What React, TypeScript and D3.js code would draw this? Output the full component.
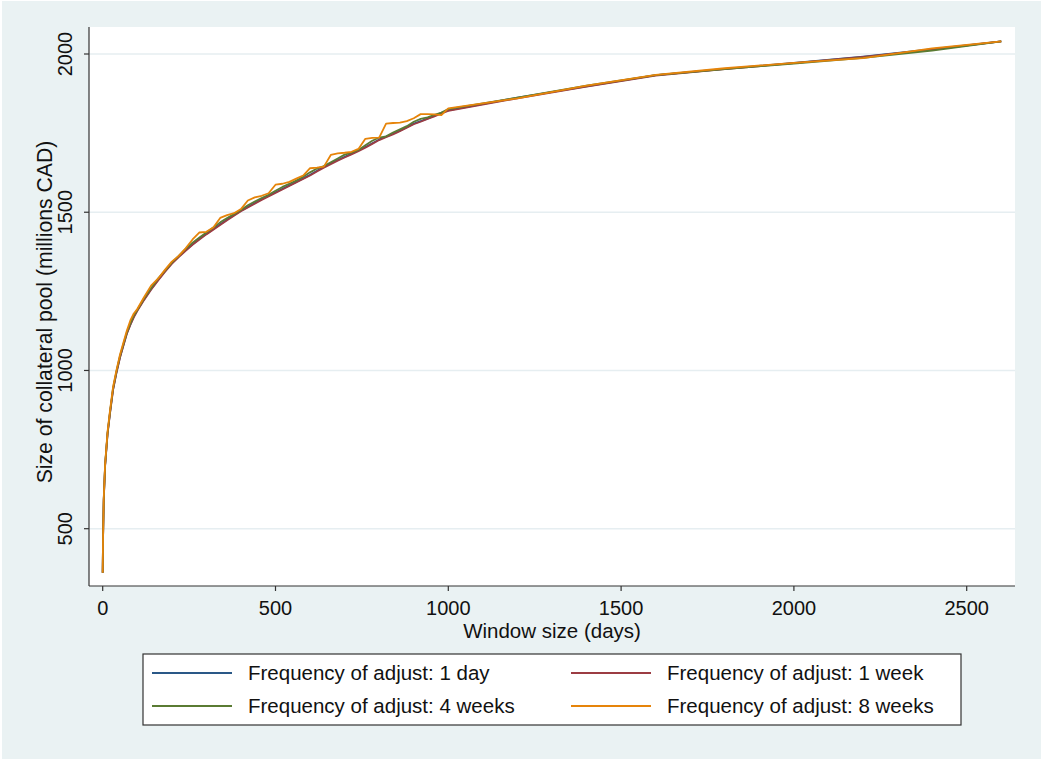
import React from "react";
import * as d3 from "d3";

const days = [0, 1, 3, 7, 14, 21, 30, 40, 50, 60, 70, 80, 90,
  100, 120, 140, 160, 180, 200, 220, 240, 260, 280, 300, 320, 340, 360, 380, 400,
  420, 440, 460, 480, 500, 520, 540, 560, 580, 600, 620, 640, 660, 680, 700,
  720, 740, 760, 780, 800, 820, 840, 860, 880, 900, 920, 940, 960, 980, 1000,
  1200, 1400, 1600, 1800, 2000, 2200, 2400, 2600];

const adj1day = [361, 470, 590, 700, 800, 865, 940, 995, 1042, 1080, 1118, 1145, 1170,
  1190, 1225, 1257, 1286, 1313, 1340, 1360, 1380, 1399, 1416, 1432, 1447, 1462, 1477, 1491, 1505,
  1517, 1529, 1541, 1552, 1563, 1574, 1585, 1596, 1607, 1618, 1631, 1644, 1655, 1665, 1675,
  1685, 1695, 1706, 1718, 1730, 1739, 1748, 1758, 1769, 1780, 1788, 1796, 1805, 1814, 1822,
  1862, 1898, 1933, 1953, 1972, 1992, 2015, 2040];

const adj1week = [361, 468, 588, 698, 798, 863, 938, 993, 1040, 1079, 1116, 1144, 1168,
  1188, 1223, 1255, 1284, 1311, 1337, 1358, 1378, 1397, 1414, 1430, 1445, 1460, 1475, 1489, 1503,
  1515, 1527, 1539, 1550, 1561, 1572, 1583, 1594, 1605, 1616, 1629, 1641, 1652, 1663, 1673,
  1683, 1693, 1704, 1716, 1728, 1737, 1746, 1756, 1767, 1778, 1786, 1795, 1803, 1812, 1820,
  1860, 1897, 1932, 1952, 1971, 1991, 2014, 2040];

const adj4weeks = [361, 470, 592, 702, 802, 868, 944, 998, 1046, 1084, 1121, 1149, 1174,
  1191, 1228, 1260, 1290, 1315, 1341, 1362, 1384, 1404, 1420, 1436, 1452, 1468, 1482, 1494, 1507,
  1522, 1534, 1545, 1555, 1568, 1580, 1590, 1600, 1612, 1626, 1638, 1646, 1658, 1670, 1682,
  1688, 1697, 1712, 1726, 1736, 1740, 1752, 1762, 1772, 1786, 1795, 1800, 1808, 1815, 1826,
  1862, 1900, 1933, 1952, 1970, 1988, 2011, 2040];

const adj8weeks = [361, 472, 595, 705, 806, 872, 948, 1002, 1050, 1088, 1126, 1158, 1180,
  1194, 1232, 1268, 1290, 1318, 1344, 1362, 1386, 1414, 1436, 1438, 1452, 1482, 1491, 1497, 1510,
  1537, 1547, 1552, 1560, 1587, 1590, 1596, 1606, 1616, 1639, 1641, 1644, 1681, 1686, 1688,
  1691, 1700, 1732, 1735, 1736, 1780, 1782, 1783, 1788, 1797, 1810, 1810, 1809, 1807, 1828,
  1860, 1900, 1934, 1955, 1972, 1987, 2018, 2040];

const seriesNames = [
  "Frequency of adjust: 1 day",
  "Frequency of adjust: 1 week",
  "Frequency of adjust: 4 weeks",
  "Frequency of adjust: 8 weeks",
];
const seriesColors = ["#2a5887", "#9c3c43", "#5a7b33", "#e6840a"];
const seriesValues = [adj1day, adj1week, adj4weeks, adj8weeks];

const xTicks = [0, 500, 1000, 1500, 2000, 2500];
const yTicks = [500, 1000, 1500, 2000];

const W = 1041;
const H = 760;
const plot = { left: 89, right: 1015, top: 27, bottom: 586 };
const font = "'Liberation Sans', Arial, Helvetica, sans-serif";

export default function App() {
  const x = d3.scaleLinear().domain([0, 2500]).range([102.7, 966.7]);
  const y = d3.scaleLinear().domain([500, 2000]).range([528.7, 54]);
  const line = d3
    .line<[number, number]>()
    .x((d) => x(d[0]))
    .y((d) => y(d[1]));

  const legendItems = seriesNames.map((name, i) => ({
    name,
    color: seriesColors[i],
    col: i % 2,
    row: Math.floor(i / 2),
  }));
  const legendColX = [152, 571];
  const legendRowY = [673, 706];

  return (
    <div style={{ position: "absolute", left: 0, top: 0 }}>
      <svg width={W} height={H} style={{ display: "block" }}>
        <rect x={0} y={0} width={W} height={H} fill="#ffffff" />
        <rect x={2} y={1} width={W - 2} height={H - 2} fill="#eaf2f3" />
        <rect
          x={plot.left}
          y={plot.top}
          width={plot.right - plot.left}
          height={plot.bottom - plot.top}
          fill="#ffffff"
        />
        {yTicks.map((t) => (
          <line
            key={"g" + t}
            x1={plot.left}
            x2={plot.right}
            y1={y(t)}
            y2={y(t)}
            stroke="#e6eef1"
            strokeWidth={1.6}
          />
        ))}
        {seriesValues.map((vals, i) => (
          <path
            key={"s" + i}
            d={line(days.map((d, j) => [d, vals[j]] as [number, number])) || ""}
            fill="none"
            stroke={seriesColors[i]}
            strokeWidth={1.8}
            strokeLinejoin="round"
          />
        ))}
        {/* axes */}
        <line x1={plot.left} x2={plot.left} y1={plot.top} y2={plot.bottom} stroke="#333" strokeWidth={1.2} />
        <line x1={plot.left} x2={plot.right} y1={plot.bottom} y2={plot.bottom} stroke="#333" strokeWidth={1.2} />
        {yTicks.map((t) => (
          <g key={"yt" + t}>
            <line x1={plot.left - 5} x2={plot.left} y1={y(t)} y2={y(t)} stroke="#333" strokeWidth={1.2} />
            <text
              transform={`translate(${72},${y(t)}) rotate(-90)`}
              textAnchor="middle"
              fontFamily={font}
              fontSize={20}
              fill="#111"
            >
              {t}
            </text>
          </g>
        ))}
        {xTicks.map((t) => (
          <g key={"xt" + t}>
            <line x1={x(t)} x2={x(t)} y1={plot.bottom} y2={plot.bottom + 5} stroke="#333" strokeWidth={1.2} />
            <text x={x(t)} y={615} textAnchor="middle" fontFamily={font} fontSize={20} fill="#111">
              {t}
            </text>
          </g>
        ))}
        <text
          x={552}
          y={638}
          textAnchor="middle"
          fontFamily={font}
          fontSize={20.5}
          fill="#111"
        >
          Window size (days)
        </text>
        <text
          transform={`translate(${52},${312}) rotate(-90)`}
          textAnchor="middle"
          fontFamily={font}
          fontSize={21.2}
          fill="#111"
        >
          Size of collateral pool (millions CAD)
        </text>
        {/* legend */}
        <rect x={143} y={654} width={818} height={71} fill="#ffffff" stroke="#333" strokeWidth={1.2} />
        {legendItems.map((it) => (
          <g key={it.name}>
            <line
              x1={legendColX[it.col]}
              x2={legendColX[it.col] + 80}
              y1={legendRowY[it.row]}
              y2={legendRowY[it.row]}
              stroke={it.color}
              strokeWidth={1.8}
            />
            <text
              x={legendColX[it.col] + 96}
              y={legendRowY[it.row] + 7}
              fontFamily={font}
              fontSize={20.5}
              fill="#111"
            >
              {it.name}
            </text>
          </g>
        ))}
      </svg>
    </div>
  );
}
